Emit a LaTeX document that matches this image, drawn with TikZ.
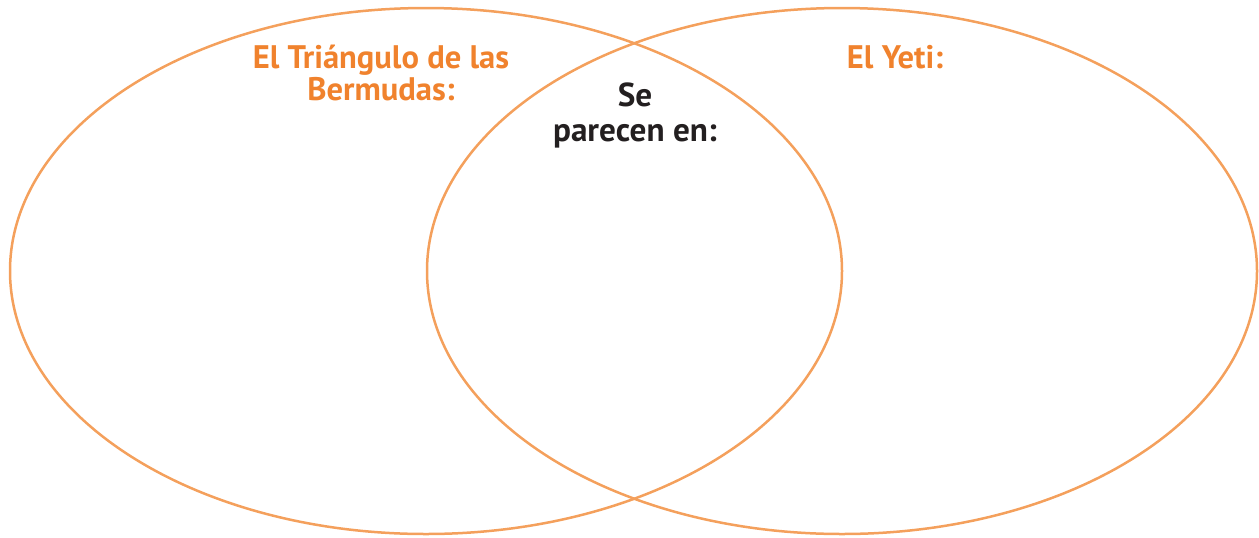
\documentclass[tikz,border=0pt]{standalone}
\usepackage{fontspec}
\setmainfont{PT Sans}
\usepackage{tikz}
\usetikzlibrary{positioning}
\definecolor{mline}{RGB}{244, 160, 92}
\definecolor{mtext}{RGB}{240, 130, 45}
\definecolor{mblack}{RGB}{35, 31, 32}
\tikzset{ring/.style = {draw=mline, line width=1.25pt}}
\tikzset{title/.style = {font=\bfseries\fontsize{16.3}{16}\selectfont, align=center, inner sep=0, anchor=north}}

\begin{document}
\begin{tikzpicture}[x=0.5pt, y=-0.5pt]
    \useasboundingbox (0, 0) rectangle (1259, 537);

    \draw [ring] (426, 271) ellipse (416 and 263);
    \draw [ring] (842, 271) ellipse (415 and 263);

    \node [title, text=mtext] (bermudas) at (381, 45) {El Triángulo de las\\Bermudas:};
    \node [title, text=mtext] (yeti) at (895, 45) {El Yeti:};
    \node [title, text=mblack, font=\bfseries\fontsize{16.6}{17.5}\selectfont] (comun) at (635, 82) {Se\\parecen en:};
  \end{tikzpicture}
\end{document}
